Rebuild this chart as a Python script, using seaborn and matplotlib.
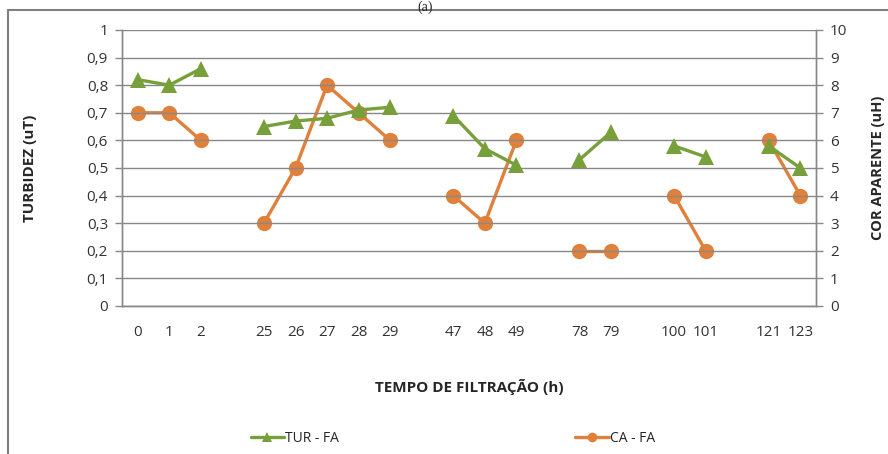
import numpy as np
import pandas as pd
import matplotlib.pyplot as plt
import matplotlib.patches as mpatches
from matplotlib.lines import Line2D
import seaborn as sns

# Categories on the x axis ('' = empty slot that separates the groups)
hours = ['0', '1', '2', '', '25', '26', '27', '28', '29', '', '47', '48', '49', '',
         '78', '79', '', '100', '101', '', '121', '123']
group = [0, 0, 0, -1, 1, 1, 1, 1, 1, -1, 2, 2, 2, -1, 3, 3, -1, 4, 4, -1, 5, 5]

# Turbidity (uT), left axis
tur = [0.82, 0.80, 0.86, np.nan, 0.65, 0.67, 0.68, 0.71, 0.72, np.nan,
       0.69, 0.57, 0.51, np.nan, 0.53, 0.63, np.nan, 0.58, 0.54, np.nan, 0.58, 0.50]
# Apparent colour (uH), right axis
ca = [7, 7, 6, np.nan, 3, 5, 8, 7, 6, np.nan, 4, 3, 6, np.nan,
      2, 2, np.nan, 4, 2, np.nan, 6, 4]

green = '#77A03A'
orange = '#E0803A'
gray = '#888888'

df = pd.DataFrame({'pos': range(len(hours)), 'tur': tur, 'ca': ca, 'grp': group})
df = df[df['grp'] >= 0]

sns.set_style('white')
plt.rcParams['font.family'] = ['Open Sans', 'DejaVu Sans']

fig = plt.figure(figsize=(8.88, 4.54), dpi=100)
ax = fig.add_axes([0.1374, 0.326, 0.919 - 0.1374, 0.934 - 0.326])
ax2 = ax.twinx()

sns.lineplot(data=df, x='pos', y='tur', units='grp', estimator=None, ax=ax,
             color=green, lw=2.4, marker='^', markersize=11, markeredgewidth=0)
sns.lineplot(data=df, x='pos', y='ca', units='grp', estimator=None, ax=ax2,
             color=orange, lw=2.4, marker='o', markersize=11, markeredgewidth=0)
ax.set_zorder(ax2.get_zorder() + 1)
ax.patch.set_visible(False)

n = len(hours)
ax.set_xlim(-0.5, n - 0.5)
ax.set_ylim(0, 1)
ax2.set_ylim(0, 10)
ax.set_yticks(np.arange(0, 1.01, 0.1))
ax.set_yticklabels(['0'] + [f'0,{i}' for i in range(1, 10)] + ['1'])
ax2.set_yticks(range(0, 11))
ax.set_xticks(range(n))
ax.set_xticklabels(hours)
ax.set_xticks(np.arange(-0.5, n, 1), minor=True)
ax.tick_params(axis='x', which='major', length=0, pad=14, labelsize=11, colors='#333333')
ax.tick_params(axis='x', which='minor', length=6, color=gray, width=1)
ax.tick_params(axis='y', length=5, color=gray, width=1, labelsize=11, pad=5, labelcolor='#333333')
ax2.tick_params(axis='y', length=5, color=gray, width=1, labelsize=11, pad=5, labelcolor='#333333')

ax.grid(axis='y', color=gray, lw=1)
ax.grid(axis='x', visible=False)
for a in (ax, ax2):
    a.spines['top'].set_visible(False)
    for s in ['left', 'right', 'bottom']:
        a.spines[s].set_color(gray)
        a.spines[s].set_linewidth(1)

ax.set_xlabel('TEMPO DE FILTRAÇÃO (h)', fontsize=11, fontweight='bold', labelpad=28)
ax.set_ylabel('TURBIDEZ (uT)', fontsize=11, fontweight='bold', labelpad=36)
ax2.set_ylabel('COR APARENTE (uH)', fontsize=10.5, fontweight='bold', labelpad=17)

handles = [Line2D([], [], color=green, lw=2.4, marker='^', markersize=7, markeredgewidth=0),
           Line2D([], [], color=orange, lw=2.4, marker='o', markersize=7, markeredgewidth=0)]
fig.legend(handles, ['TUR - FA', 'CA - FA'], loc='center', bbox_to_anchor=(0.51, 0.035),
           ncol=2, frameon=False, fontsize=10, columnspacing=17, handlelength=2.4,
           handletextpad=0.1)

# outer chart border and the panel label above it
fig.patches.append(mpatches.Rectangle((8 / 888, -0.1), 1.0, 1 - 10 / 454 + 0.1,
                                      transform=fig.transFigure, fill=False,
                                      edgecolor='#7f7f7f', lw=1.5))
fig.text(0.479, 0.999, '(a)', ha='center', va='top', fontsize=10,
         family='Liberation Serif')

fig.savefig('out.png', dpi=100)
